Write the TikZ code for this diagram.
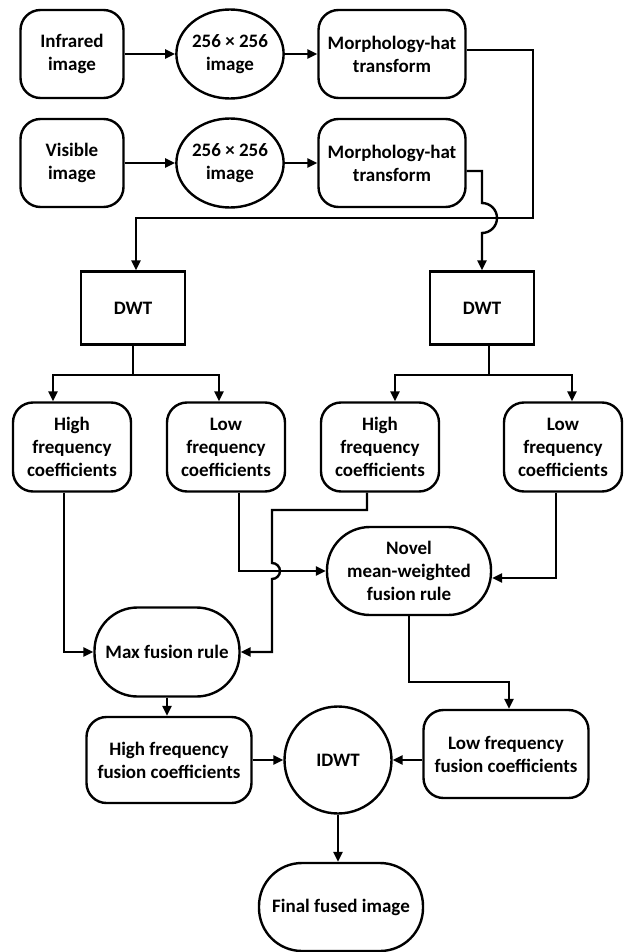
\documentclass[tikz,border=0pt]{standalone}
\usepackage{fontspec}
\setmainfont{Carlito}
\usetikzlibrary{arrows.meta,shapes.geometric}
\def\hop{arc[start angle=90,end angle=-90,radius=8pt]}
\def\bighop{arc[start angle=90,end angle=-90,radius=15pt]}

\begin{document}
\begin{tikzpicture}[x=1pt,y=-1pt,line width=2.4pt,
    every node/.style={font=\fontsize{19}{23}\selectfont\bfseries,align=center,inner sep=0pt},
    rbox/.style={draw,rounded corners=20pt,minimum height=88pt},
    pill/.style={draw,rounded corners=43pt,minimum height=88pt},
    sbox/.style={draw,minimum width=104pt,minimum height=73pt},
    oval/.style={draw,ellipse,minimum width=105pt,minimum height=89pt},
    arr/.style={-{Triangle[length=10pt,width=9pt]}}]
                \useasboundingbox (0,0) rectangle (624,952);
                \node[rbox,minimum width=103pt] (inf) at (72,54) {Infrared\\image};
                \node[oval] (sq1) at (230,54) {256 × 256\\image};
                \node[rbox,minimum width=147pt] (mh1) at (392,54) {Morphology-hat\\transform};
                \node[rbox,minimum width=103pt] (vis) at (72,163) {Visible\\image};
                \node[oval] (sq2) at (230,163) {256 × 256\\image};
                \node[rbox,minimum width=147pt] (mh2) at (392,163) {Morphology-hat\\transform};
                \node[sbox] (dwt1) at (133,308) {DWT};
                \node[sbox] (dwt2) at (482,308) {DWT};
                \node[rbox,minimum width=118pt,minimum height=89pt] (hf1) at (72,447) {High\\frequency\\coefficients};
                \node[rbox,minimum width=118pt,minimum height=89pt] (lf1) at (226,447) {Low\\frequency\\coefficients};
                \node[rbox,minimum width=118pt,minimum height=89pt] (hf2) at (380,447) {High\\frequency\\coefficients};
                \node[rbox,minimum width=118pt,minimum height=89pt] (lf2) at (563,447) {Low\\frequency\\coefficients};
                \node[pill,minimum width=164pt] (novel) at (409,571) {Novel\\mean-weighted\\fusion rule};
                \node[pill,minimum width=145pt,minimum height=89pt] (maxr) at (167,652) {Max fusion rule};
                \node[rbox,minimum width=165pt,minimum height=86pt] (hff) at (169,760) {High frequency\\fusion coefficients};
                \node[draw,circle,minimum size=107pt] (idwt) at (338,760) {IDWT};
                \node[rbox,minimum width=165pt] (lff) at (506,754) {Low frequency\\fusion coefficients};
                \node[pill,minimum width=164pt] (final) at (341,907) {Final fused image};
                \coordinate (jr) at (533,218);
                \coordinate (hk) at (272,510);
                \draw[arr] (inf) -- (sq1);
                \draw[arr] (sq1) -- (mh1);
                \draw[arr] (vis) -- (sq2);
                \draw[arr] (sq2) -- (mh2);
                \draw[arr] ([yshift=4pt]mh1.east) -| (jr) -| ([xshift=3pt]dwt1.north);
                \draw[arr] ([yshift=-8pt]mh2.east) -| ([yshift=15pt]dwt2.north |- jr) \bighop -- (dwt2.north);
                \draw (dwt1.south) -- ++(0,29) coordinate (s1);
                \draw[arr] (s1) -| ([xshift=-19pt]hf1.north);
                \draw[arr] (s1) -| ([xshift=-7pt]lf1.north);
                \draw ([xshift=7pt]dwt2.south) -- ++(0,29) coordinate (s2);
                \draw[arr] (s2) -| ([xshift=15pt]hf2.north);
                \draw[arr] (s2) -| ([xshift=9pt]lf2.north);
                \draw[arr] ([xshift=-8pt]hf1.south) |- (maxr.west);
                \draw[arr] ([xshift=13pt]lf1.south) |- (novel.west);
                \draw[arr] ([xshift=-13pt]hf2.south) |- (hk) -- ([yshift=8pt]hk |- novel.west) \hop |- (maxr.east);
                \draw[arr] ([xshift=-7pt]lf2.south) |- ([yshift=-7pt]novel.east);
                \draw[arr] (novel.south) -- ++(0,66) -| ([xshift=3pt]lff.north);
                \draw[arr] (maxr.south) -- (maxr.south |- hff.north);
                \draw[arr] (hff) -- (idwt);
                \draw[arr] (lff.west |- idwt) -- (idwt);
                \draw[arr] (idwt.south) -- (idwt.south |- final.north);
            \end{tikzpicture}
\end{document}
